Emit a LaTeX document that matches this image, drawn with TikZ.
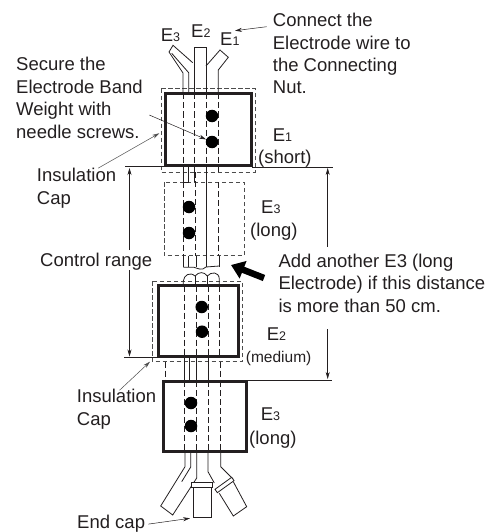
\documentclass[tikz,border=0pt]{standalone}
\usepackage{fontspec}
\setmainfont{Liberation Sans}
\usetikzlibrary{arrows.meta}
\definecolor{inkgray}{HTML}{231F20}
\newcommand{\sub}[1]{{\fontsize{12.5}{12.5}\selectfont #1}}
\tikzset{label text/.style={anchor=north west,inner sep=0pt,align=left,text=inkgray,
        font=\fontsize{18.5}{22.4}\selectfont},
    thick box/.style={draw=inkgray,line width=3pt},
    cap box/.style={draw=black!70,dash pattern=on 4.5pt off 2.5pt,line width=0.6pt},
    tube/.style={draw=inkgray,line width=0.8pt},
    core/.style={draw=inkgray,dash pattern=on 6pt off 3pt,line width=0.6pt},
    weight/.style={circle,fill=black,minimum size=12.5pt,inner sep=0pt},
    leader/.style={draw=inkgray,line width=0.5pt,-{Stealth[length=7pt,width=4pt]}},
    extension/.style={draw=inkgray,line width=0.6pt}}

\begin{document}
\begin{tikzpicture}[x=1pt,y=-1pt]
    \useasboundingbox (0,0) rectangle (493,532);

    % Texts
    \node[label text] (secure) at (16,57.3) {Secure the\\Electrode Band\\Weight with\\needle screws.};
    \node[label text] (connect) at (272.7,13.1) {Connect the\\Electrode wire to\\the Connecting\\Nut.};
    \node[label text] (insulA) at (36.7,168.1) {Insulation\\Cap};
    \node[label text] (insulB) at (76.7,389.3) {Insulation\\Cap};
    \node[label text] (control) at (40,253.1) {Control range};
    \node[label text] (addnote) at (278.3,253.6) {Add another E3 (long\\Electrode) if this distance\\is more than 50 cm.};
    \node[label text] (endcap) at (77,515.3) {End cap};

    \node[label text] (topEc) at (160.7,28.3) {E\sub{3}};
    \node[label text] (topEb) at (191,24.8) {E\sub{2}};
    \node[label text] (topEa) at (220,32.3) {E\sub{1}};
    \node[label text] (short) at (272.7,128.3) {E\sub{1}};
    \node[label text] (shortB) at (258,150.3) {(short)};
    \node[label text] (longA) at (261,200.3) {E\sub{3}};
    \node[label text] (longAb) at (250,222.9) {(long)};
    \node[label text] (medium) at (266.7,327.3) {E\sub{2}};
    \node[label text,font=\fontsize{15.5}{18}\selectfont] (mediumB) at (245.7,351.5) {(medium)};
    \node[label text] (longB) at (260.7,407.3) {E\sub{3}};
    \node[label text] (longBb) at (249,431.3) {(long)};

    % Insulation caps and electrode boxes
    \draw[cap box] (161,88.7) rectangle (255,172);
    \draw[cap box] (164.3,182) rectangle (244,255.7);
    \draw[cap box] (152.3,281) rectangle (242,361.7);
    \draw[thick box] (165.5,93.5) rectangle (251,165.5);
    \draw[thick box] (158.3,285.7) rectangle (238,356);
    \draw[thick box] (163.3,381) rectangle (246.7,451.7);

    % Upper wires
    \draw[tube] (183,93) -- (183,73) -- (169,52) -- (173,45.3) -- (192.7,62.7);
    \draw[tube] (171.7,53.3) -- (188.7,72.7) -- (188.7,93);
    \draw[tube] (194,93) -- (194,47.5) -- (206,47.5) -- (206,93);
    \draw[tube] (206,66) -- (220,50) -- (228.3,57.3) -- (218.3,70) -- (218.3,93);
    \foreach \xa/\ya/\yb in {183/93.5/165.5, 194/93.5/165.5, 206/93.5/165.5, 218.3/93.5/165.5,
        183/182/256, 195/172/256, 218.3/182/256, 184.3/285.7/356, 196/285.7/356, 208/285.7/356,
        219/285.7/356, 184.5/381/451.7, 196.5/381/451.7, 208.5/381/451.7, 220.5/381/451.7,
        165/361.7/381, 220/361.7/381}
        \draw[core] (\xa,\ya) -- (\xa,\yb);
    \foreach \xa in {183,188.7,194,206,218.3}
        \draw[tube] (\xa,165.5) -- (\xa,172);
    \draw[tube] (183,172) -- (183,182) -- (188.7,182) -- (188.7,172);
    \draw[tube] (194,172) -- (194,182);
    \draw[tube] (206.7,172) -- (206.7,256);

    % Gap in the chain
    \foreach \xa in {183.3,188.3,196,206.7,219.3}
        \draw[tube] (\xa,256) -- (\xa,267);
    \draw[tube] (183.3,267.3) -- (194,267.3) .. controls (198,268.5) and (202,271) .. (206,267)
        -- (219.3,266);
    \draw[tube] (183.3,285) -- (183.3,281) .. controls (184,275) and (190,271.5) .. (195,276)
        .. controls (199,271.5) and (204,271.5) .. (207.3,276)
        .. controls (211,271.5) and (219,271.5) .. (219.3,279) -- (219.3,285);
    \foreach \xa in {195,207.3}
        \draw[tube] (\xa,276) -- (\xa,285);

    % Wires between the lower boxes
    \foreach \xa in {184.3,189,196.7,208}
        \draw[tube] (\xa,356) -- (\xa,381);

    % Lower wires
    \draw[tube] (185,452) -- (185,466.7) -- (160.7,506) -- (172.7,515) -- (196.7,478) -- (196.7,452);
    \draw[tube] (190.7,452) -- (190.7,467) -- (181.7,481.7);
    \draw[tube] (208,452) -- (208,471.7) -- (214.3,483);
    \draw[tube] (220.7,452) -- (220.7,466.7) -- (233,479);
    \draw[tube,fill=white] (191.7,482.7) rectangle (212.3,487);
    \draw[tube] (193,487) rectangle (211,517);
    \draw[tube] (219.3,493.3) -- (233.3,516) -- (246.7,506.7) -- (233.3,481.7);
    \draw[tube,fill=white] (215,489.3) -- (231.7,477.3) -- (234,480.7) -- (217.3,492.7) -- cycle;

    % Weights
    \foreach \nm/\xa/\ya in {wa/212/116, wb/212/142, wc/189/207, wd/189/233,
        we/201.7/307, wf/202/331.7, wg/191/403, wh/191/426}
        \node[weight] (\nm) at (\xa,\ya) {};

    % Extension lines
    \draw[extension] (125,166.5) -- (165,166.5);
    \draw[extension] (252,167) -- (333,167);
    \draw[extension] (124,357.3) -- (158,357.3);
    \draw[extension] (245,380) -- (332,380);

    % Leaders
    \coordinate (nutend) at (235,30.7);
    \coordinate (capA) at (159.3,133.3);
    \coordinate (capB) at (150,361.7);
    \coordinate (capend) at (190,518.3);
    \coordinate (nutstart) at (266.7,26.7);
    \coordinate (bandstart) at (149.3,115);
    \draw[leader] (nutstart) -- (nutend);
    \draw[leader] (bandstart) -- (wb);
    \draw[leader,draw=black!70] (insulA.north east) ++(-18,0) -- (capA);
    \draw[leader,draw=black!70] (insulB.north) ++(3,1) -- (capB);
    \draw[leader] (endcap.east) ++(3,0) -- (capend);

    % Dimensions
    \coordinate (dimLt) at (129.5,168);
    \coordinate (dimLa) at (129.5,250);
    \coordinate (dimLb) at (129.5,270);
    \coordinate (dimLe) at (129.5,356.5);
    \coordinate (dimRt) at (327.7,168);
    \coordinate (dimRa) at (327.7,246.7);
    \coordinate (dimRb) at (327.7,329);
    \coordinate (dimRe) at (327.7,379);
    \draw[leader] (dimLa) -- (dimLt);
    \draw[leader] (dimLb) -- (dimLe);
    \draw[leader] (dimRa) -- (dimRt);
    \draw[leader] (dimRb) -- (dimRe);

    % Big arrow
    \coordinate (bigtail) at (264,278);
    \coordinate (bigtip) at (231,265);
    \draw[draw=black,line width=6.5pt,-{Triangle[length=13pt,width=18pt]}] (bigtail) -- (bigtip);
\end{tikzpicture}
\end{document}
